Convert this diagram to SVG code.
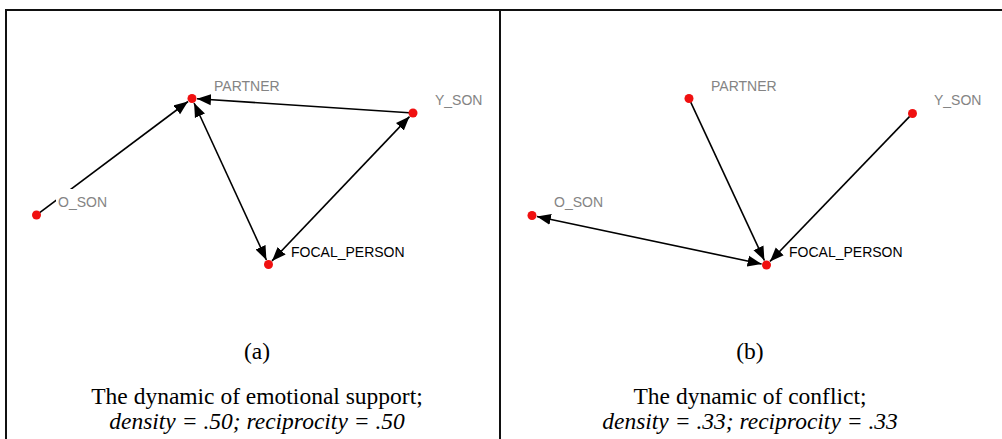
<svg xmlns="http://www.w3.org/2000/svg" width="1002" height="439" viewBox="0 0 1002 439">
<style>
.frame{fill:none;stroke:#111;stroke-width:2}
.edge{stroke:#000;stroke-width:1.6;fill:none}
.node{fill:#f01010}
.lbl{font-family:"Liberation Sans",Arial,sans-serif;font-size:14px;fill:#848484}
.lblf{font-family:"Liberation Sans",Arial,sans-serif;font-size:14px;fill:#000}
.cap{font-family:"Liberation Serif","Times New Roman",serif;font-size:23.5px;fill:#000;text-anchor:middle}
.it{font-style:italic}
</style>
<defs>
<marker id="ah" markerUnits="userSpaceOnUse" markerWidth="16" markerHeight="12" refX="14" refY="5.5" orient="auto-start-reverse" viewBox="0 0 16 11">
<path d="M0,0 L14,5.5 L0,11 z" fill="#000"/>
</marker>
</defs>
<rect width="1002" height="439" fill="#fff"/>
<g id="frame">
<line class="frame" x1="5" y1="10" x2="1002" y2="10"/>
<line class="frame" x1="6" y1="9" x2="6" y2="439"/>
<line class="frame" x1="500" y1="10" x2="500" y2="439"/>
</g>
<g id="connectors">
<line class="edge" x1="39.7" y1="212.6" x2="188" y2="101.5" marker-end="url(#ah)"/>
<line class="edge" x1="409" y1="112.7" x2="197" y2="98.8" marker-end="url(#ah)"/>
<line class="edge" x1="194.1" y1="103" x2="266.4" y2="260" marker-start="url(#ah)" marker-end="url(#ah)"/>
<line class="edge" x1="272" y1="260.9" x2="409.5" y2="116.6" marker-start="url(#ah)" marker-end="url(#ah)"/>
<line class="edge" x1="690.7" y1="102.1" x2="764.4" y2="260.5" marker-end="url(#ah)"/>
<line class="edge" x1="909.7" y1="116.4" x2="770" y2="261.4" marker-end="url(#ah)"/>
<line class="edge" x1="536.9" y1="216.5" x2="761.6" y2="264" marker-start="url(#ah)" marker-end="url(#ah)"/>
</g>
<g id="a_partner"><circle class="node" cx="192" cy="98.5" r="4.5"/><text class="lbl" x="214" y="91">PARTNER</text></g>
<g id="a_yson"><circle class="node" cx="413" cy="113" r="4.5"/><text class="lbl" x="435" y="105">Y_SON</text></g>
<g id="a_oson"><rect x="56" y="189" width="50" height="22" fill="#fff"/><circle class="node" cx="36.5" cy="215" r="4.5"/><text class="lbl" x="58" y="207">O_SON</text></g>
<g id="a_focal"><circle class="node" cx="268.5" cy="264.5" r="4.5"/><text class="lblf" x="291" y="257">FOCAL_PERSON</text></g>
<g id="b_partner"><circle class="node" cx="689" cy="98.5" r="4.5"/><text class="lbl" x="711" y="91">PARTNER</text></g>
<g id="b_yson"><circle class="node" cx="912.5" cy="113.5" r="4.5"/><text class="lbl" x="934" y="105">Y_SON</text></g>
<g id="b_oson"><circle class="node" cx="532" cy="215.5" r="4.5"/><text class="lbl" x="554" y="207">O_SON</text></g>
<g id="b_focal"><circle class="node" cx="766.5" cy="265" r="4.5"/><text class="lblf" x="789" y="257">FOCAL_PERSON</text></g>
<g id="captions">
<text class="cap" x="257" y="359">(a)</text>
<text class="cap" x="257" y="404">The dynamic of emotional support;</text>
<text class="cap it" x="257" y="429">density = .50; reciprocity = .50</text>
<text class="cap" x="750" y="359">(b)</text>
<text class="cap" x="750" y="404">The dynamic of conflict;</text>
<text class="cap it" x="750" y="429">density = .33; reciprocity = .33</text>
</g>
</svg>
